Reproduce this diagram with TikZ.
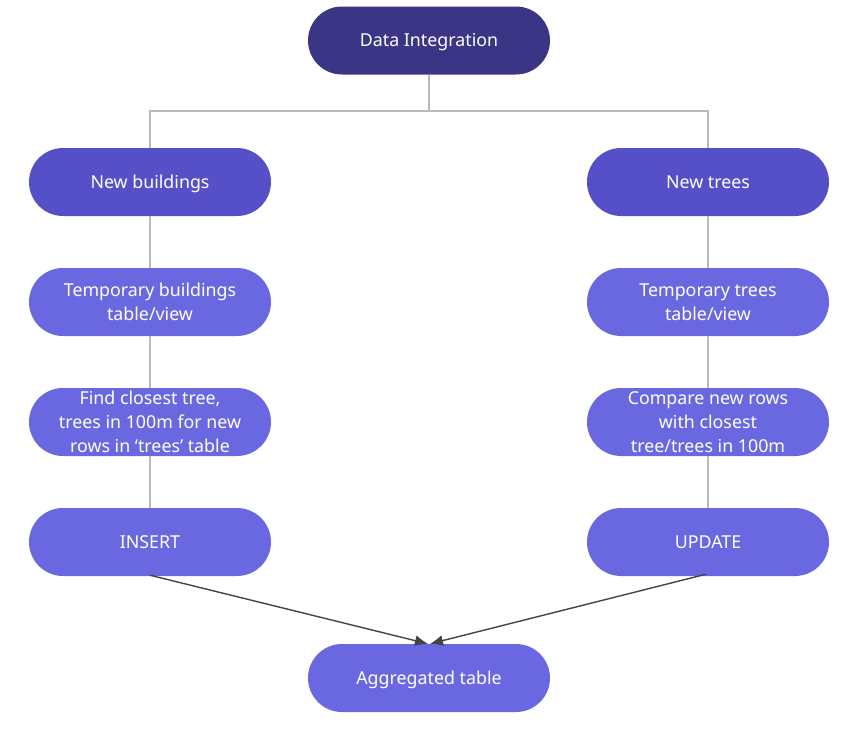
\documentclass[tikz,border=0pt]{standalone}
\usepackage{fontspec}
\setmainfont{Noto Sans}
\usetikzlibrary{arrows.meta}
\definecolor{topblue}{HTML}{3B3585}
\definecolor{midblue}{HTML}{5650C8}
\definecolor{lightblue}{HTML}{6A68E1}
\definecolor{linegray}{HTML}{BABABA}
\definecolor{arrowgray}{HTML}{444444}
\tikzset{
    pill/.style={rounded corners=34pt, minimum width=242pt, minimum height=68pt,
        text=white, align=center, inner sep=2pt,
        font=\fontsize{17.8}{24}\selectfont},
    oneline/.style={pill, text height=12.8pt, text depth=0pt},
    link/.style={linegray, line width=1.4pt},
    flow/.style={arrowgray, line width=1.4pt, -{Latex[length=13pt,width=11pt]}}
}
\begin{document}
\begin{tikzpicture}[x=1pt, y=-1pt]
    \useasboundingbox (0,0) rectangle (855,731);
    % top node and the two branches
    \node[oneline, fill=topblue] (integ) at (429,40.5) {Data Integration};
    \node[oneline, fill=midblue] (buildings) at (150,182) {New buildings};
    \node[oneline, fill=midblue] (trees) at (708,182) {New trees};

    % left column
    \node[pill, fill=lightblue] (tmpbuild) at (150,302) {Temporary buildings\\table/view};
    \node[pill, fill=lightblue] (findtree) at (150,422) {Find closest tree,\\trees in 100m for new\\rows in ‘trees’ table};
    \node[oneline, fill=lightblue] (insert) at (150,542) {INSERT};

    % right column
    \node[pill, fill=lightblue] (tmptrees) at (708,302) {Temporary trees\\table/view};
    \node[pill, fill=lightblue] (compare) at (708,422) {Compare new rows\\with closest\\tree/trees in 100m};
    \node[oneline, fill=lightblue] (update) at (708,542) {UPDATE};

    % result at the bottom
    \node[oneline, fill=lightblue] (aggr) at (429,678) {Aggregated table};

    % gray connectors
    \coordinate (split) at (429,111);
    \draw[link] (integ.south) -- (split);
    \draw[link] (buildings.north) |- (split) -| (trees.north);
    \draw[link] (buildings) -- (tmpbuild) -- (findtree) -- (insert);
    \draw[link] (trees) -- (tmptrees) -- (compare) -- (update);

    % arrows into the aggregated table
    \draw[flow] ([yshift=1pt]insert.south) -- ([xshift=-1pt]aggr.north);
    \draw[flow] ([xshift=-2pt,yshift=2pt]update.south) -- ([xshift=1pt]aggr.north);
\end{tikzpicture}
\end{document}
